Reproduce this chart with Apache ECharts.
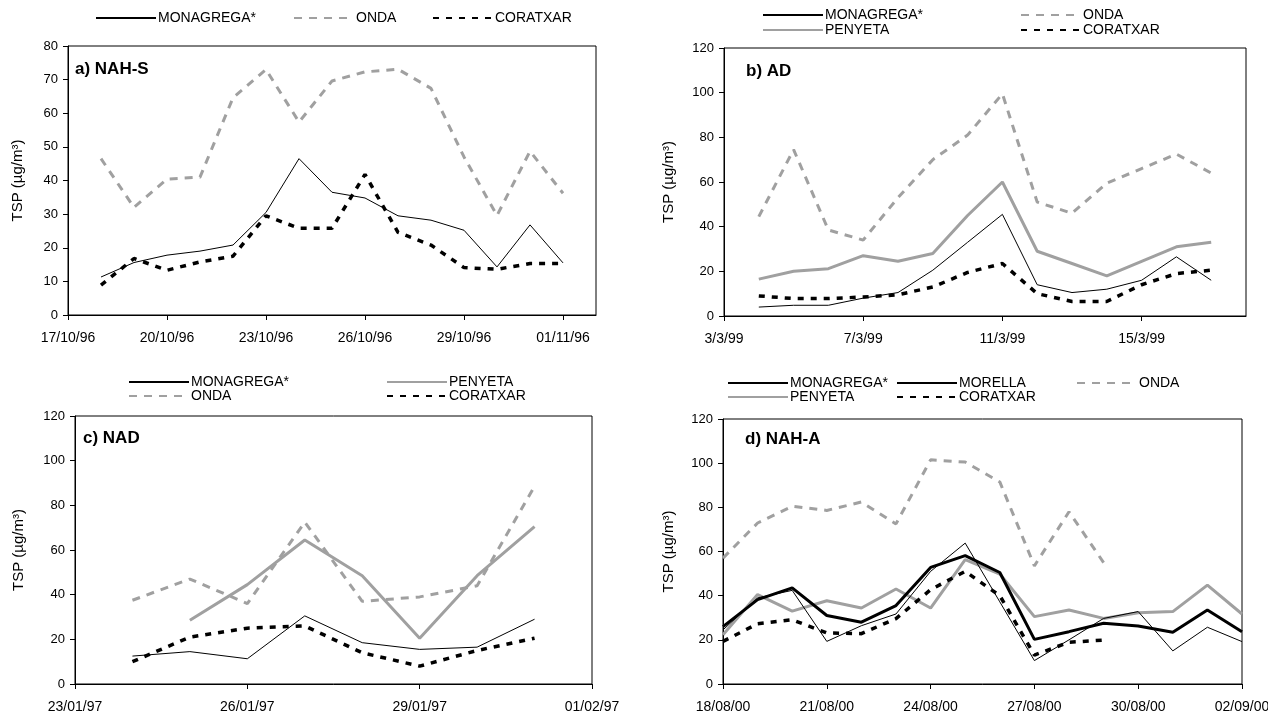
<!DOCTYPE html>
<html>
<head>
<meta charset="utf-8">
<title>TSP</title>
<script src="https://cdn.jsdelivr.net/npm/echarts@6/dist/echarts.min.js"></script>
<style>
html,body{margin:0;padding:0;background:#fff;}
#main{width:1268px;height:715px;}
</style>
</head>
<body>
<div id="main"></div>
<script>
// a) NAH-S  (x = days from 17/10/96)
var aDays      = [1, 2, 3, 4, 5, 6, 7, 8, 9, 10, 11, 12, 13, 14, 15];
var aMonagrega = [11.3, 15.6, 17.8, 19.0, 20.8, 30.5, 46.5, 36.5, 34.8, 29.5, 28.2, 25.2, 14.3, 26.8, 15.5];
var aOnda      = [46.5, 32.0, 40.4, 41.0, 64.6, 73.0, 57.4, 69.6, 72.3, 73.1, 67.4, 47.0, 29.6, 48.7, 36.2];
var aCoratxar  = [8.9, 16.8, 13.3, 15.8, 17.5, 29.5, 25.8, 25.8, 41.8, 24.6, 20.8, 14.1, 13.6, 15.3, 15.3];
var aTicks     = ['17/10/96', '20/10/96', '23/10/96', '26/10/96', '29/10/96', '01/11/96'];

// b) AD  (x = days from 3/3/99)
var bDays      = [1, 2, 3, 4, 5, 6, 7, 8, 9, 10, 11, 12, 13, 14];
var bMonagrega = [4.0, 4.8, 4.8, 8.0, 10.5, 20.5, 33.0, 45.5, 14.0, 10.5, 12.0, 16.0, 26.5, 16.0];
var bPenyeta   = [16.5, 20.0, 21.2, 27.0, 24.5, 28.0, 45.0, 60.0, 29.0, 23.5, 18.0, 24.5, 31.0, 33.0];
var bOnda      = [44.5, 74.5, 38.5, 34.0, 53.0, 70.0, 81.0, 99.5, 51.0, 46.0, 59.5, 66.0, 72.5, 64.0];
var bCoratxar  = [9.0, 7.8, 7.8, 8.5, 9.5, 13.0, 19.5, 23.5, 10.0, 6.5, 6.5, 14.0, 19.0, 20.5];
var bTicks     = ['3/3/99', '7/3/99', '11/3/99', '15/3/99'];

// c) NAD  (x = days from 23/01/97)
var cDays      = [1, 2, 3, 4, 5, 6, 7, 8];
var cMonagrega = [12.5, 14.5, 11.3, 30.5, 18.5, 15.5, 16.5, 29.0];
var cPenyeta   = [null, 28.5, 44.5, 64.5, 48.5, 20.5, 48.5, 70.5];
var cOnda      = [37.5, 47.0, 36.0, 72.5, 37.0, 39.0, 44.0, 88.5];
var cCoratxar  = [10.0, 21.0, 25.0, 26.0, 14.0, 8.0, 15.0, 20.5];
var cTicks     = ['23/01/97', '26/01/97', '29/01/97', '01/02/97'];

// d) NAH-A  (x = days from 18/08/00)
var dDays      = [0, 1, 2, 3, 4, 5, 6, 7, 8, 9, 10, 11, 12, 13, 14, 15];
var dMonagrega = [24.5, 39.0, 42.4, 19.3, 26.4, 31.7, 51.0, 63.8, 37.2, 10.6, 20.0, 29.7, 32.8, 15.0, 25.7, 19.2];
var dMorella   = [26.0, 38.2, 43.5, 31.0, 28.0, 35.5, 52.8, 58.1, 50.5, 20.2, 23.7, 27.5, 26.3, 23.4, 33.5, 23.7];
var dOnda      = [57.0, 72.9, 80.5, 78.6, 82.4, 72.5, 101.5, 100.5, 91.5, 53.5, 78.0, 55.0, null, null, null, null];
var dPenyeta   = [22.3, 40.5, 33.0, 37.7, 34.4, 43.0, 34.4, 56.3, 49.8, 30.5, 33.5, 29.7, 32.3, 32.8, 44.8, 31.7];
var dCoratxar  = [19.3, 27.3, 29.1, 23.1, 22.8, 29.6, 42.7, 51.0, 40.0, 13.1, 18.9, 19.9, null, null, null, null];
var dTicks     = ['18/08/00', '21/08/00', '24/08/00', '27/08/00', '30/08/00', '02/09/00'];

var FONT = 'Liberation Sans';
var YNAME = 'TSP (\u00b5g/m\u00b3)';

var lineStyles = {
  'MONAGREGA*': {color: '#000', width: 1, type: 'solid'},
  'MORELLA':    {color: '#000', width: 3, type: 'solid'},
  'PENYETA':    {color: '#a0a0a0', width: 3, type: 'solid'},
  'ONDA':       {color: '#a0a0a0', width: 3, type: [8, 7]},
  'CORATXAR':   {color: '#000', width: 3.5, type: [6, 7]}
};

var panels = [
  {grid: {left: 68, top: 46, width: 528, height: 269}, xMax: 16, step: 3, ticks: aTicks, yMax: 80, yStep: 10, gap: 43,
   label: 'a) NAH-S', lx: 75, ly: 61},
  {grid: {left: 724, top: 48, width: 522, height: 268}, xMax: 15, step: 4, ticks: bTicks, yMax: 120, yStep: 20, gap: 48,
   label: 'b) AD', lx: 746, ly: 63},
  {grid: {left: 75, top: 416, width: 517, height: 268}, xMax: 9, step: 3, ticks: cTicks, yMax: 120, yStep: 20, gap: 49,
   label: 'c) NAD', lx: 83, ly: 430},
  {grid: {left: 723, top: 419, width: 519, height: 265}, xMax: 15, step: 3, ticks: dTicks, yMax: 120, yStep: 20, gap: 47,
   label: 'd) NAH-A', lx: 745, ly: 431}
];

function pairs(days, vals) {
  var out = [];
  for (var i = 0; i < days.length; i++) {
    if (vals[i] != null) out.push([days[i], vals[i]]);
  }
  return out;
}

function line(name, idx, days, vals) {
  var st = lineStyles[name];
  return {
    name: name, type: 'line', xAxisIndex: idx, yAxisIndex: idx,
    data: pairs(days, vals),
    symbol: 'none', showSymbol: false, smooth: false, animation: false,
    lineStyle: {color: st.color, width: st.width, type: st.type},
    itemStyle: {color: st.color},
    emphasis: {disabled: true}
  };
}

// one legend per item, placed where the reference has it
function leg(name, x, y) {
  return {
    data: [name], left: x, top: y - 7, padding: 0, itemGap: 0,
    itemWidth: 60, itemHeight: 14, selectedMode: false,
    itemStyle: {opacity: 0},  // line only, no marker
    textStyle: {fontFamily: FONT, fontSize: 14, color: '#000', padding: [0, 0, 0, -3]}
  };
}

var grids = [], xAxes = [], yAxes = [], titles = [];
panels.forEach(function (p, i) {
  var g = p.grid;
  grids.push({left: g.left, top: g.top, width: g.width, height: g.height, show: true,
    borderColor: '#000', borderWidth: 1, backgroundColor: '#fff', containLabel: false, outerBoundsMode: 'none'});
  var tv = p.ticks.map(function (t, k) { return k * p.step; });
  xAxes.push({
    gridIndex: i, type: 'value', min: 0, max: p.xMax,
    axisLine: {show: true, onZero: false, lineStyle: {color: '#000', width: 1}},
    axisTick: {show: true, length: 5, customValues: tv, lineStyle: {color: '#000'}},
    axisLabel: {customValues: tv, margin: 16, color: '#000', fontFamily: FONT, fontSize: 14,
      formatter: function (v) { return p.ticks[Math.round(v / p.step)] || ''; }},
    splitLine: {show: false}
  });
  yAxes.push({
    gridIndex: i, type: 'value', min: 0, max: p.yMax, interval: p.yStep,
    name: YNAME, nameLocation: 'middle', nameGap: p.gap,
    nameTextStyle: {color: '#000', fontFamily: FONT, fontSize: 15},
    axisLine: {show: true, lineStyle: {color: '#000', width: 1}},
    axisTick: {show: true, length: 5, lineStyle: {color: '#000'}},
    axisLabel: {margin: 10, color: '#000', fontFamily: FONT, fontSize: 13},
    splitLine: {show: false}
  });
  titles.push({text: p.label, left: p.lx, top: p.ly, padding: 0,
    textStyle: {fontFamily: FONT, fontSize: 17, fontWeight: 'bold', color: '#000'}});
});

var series = [
  line('ONDA', 0, aDays, aOnda),
  line('CORATXAR', 0, aDays, aCoratxar),
  line('MONAGREGA*', 0, aDays, aMonagrega),

  line('ONDA', 1, bDays, bOnda),
  line('PENYETA', 1, bDays, bPenyeta),
  line('CORATXAR', 1, bDays, bCoratxar),
  line('MONAGREGA*', 1, bDays, bMonagrega),

  line('ONDA', 2, cDays, cOnda),
  line('PENYETA', 2, cDays, cPenyeta),
  line('CORATXAR', 2, cDays, cCoratxar),
  line('MONAGREGA*', 2, cDays, cMonagrega),

  line('ONDA', 3, dDays, dOnda),
  line('PENYETA', 3, dDays, dPenyeta),
  line('CORATXAR', 3, dDays, dCoratxar),
  line('MORELLA', 3, dDays, dMorella),
  line('MONAGREGA*', 3, dDays, dMonagrega)
];

var legends = [
  leg('MONAGREGA*', 95, 18), leg('ONDA', 293, 18), leg('CORATXAR', 432, 18),
  leg('MONAGREGA*', 762, 15), leg('ONDA', 1020, 15), leg('PENYETA', 762, 30), leg('CORATXAR', 1020, 30),
  leg('MONAGREGA*', 128, 382), leg('PENYETA', 386, 382), leg('ONDA', 128, 396), leg('CORATXAR', 386, 396),
  leg('MONAGREGA*', 727, 383), leg('MORELLA', 896, 383), leg('ONDA', 1076, 383),
  leg('PENYETA', 727, 397), leg('CORATXAR', 896, 397)
];

var chart = echarts.init(document.getElementById('main'), null, {renderer: 'canvas'});
chart.setOption({
  backgroundColor: '#fff',
  animation: false,
  title: titles,
  legend: legends,
  grid: grids,
  xAxis: xAxes,
  yAxis: yAxes,
  series: series
});
</script>
</body>
</html>
